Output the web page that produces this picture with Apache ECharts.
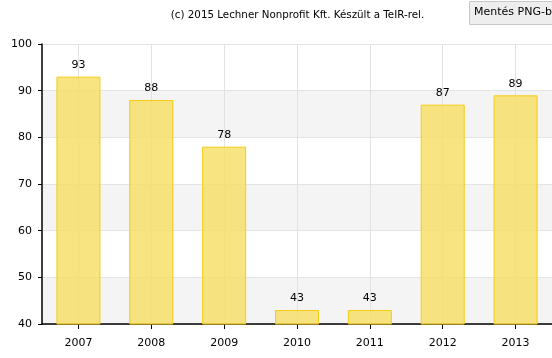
<!DOCTYPE html>
<html><head><meta charset="utf-8">
<script src="https://cdn.jsdelivr.net/npm/echarts@6/dist/echarts.min.js"></script>
<style>html,body{margin:0;padding:0;background:#fff}#c{width:552px;height:358px}</style>
</head><body><div id="c"></div>
<script>
const categories = ['2007','2008','2009','2010','2011','2012','2013'];
const values = [93, 88, 78, 43, 43, 87, 89];
const yTicks = [40, 50, 60, 70, 80, 90, 100];
const titleText = '(c) 2015 Lechner Nonprofit Kft. Készült a TeIR-rel.';
const buttonText = 'Mentés PNG-be';

const chart = echarts.init(document.getElementById('c'), null, {renderer:'canvas'});
const font = 'DejaVu Sans';
chart.setOption({
  animation:false,
  textStyle:{fontFamily:font},
  graphic:[
    {type:'text', x:297.5, y:10, style:{text:titleText, font:'10.3px "DejaVu Sans"', fill:'#000', align:'center'}},
    {type:'rect', shape:{x:469.5,y:1.5,width:90,height:23}, style:{fill:'#eeeeee', stroke:'#c8c8c8', lineWidth:1}},
    {type:'text', x:474, y:7, style:{text:buttonText, font:'11px "DejaVu Sans"', fill:'#000'}}
  ],
  grid:{left:42, right:-1.5, top:44, bottom:34, containLabel:false},
  xAxis:{type:'category', data:categories,
    axisLine:{lineStyle:{color:'#000', width:1.5}},
    axisTick:{show:true, alignWithLabel:true, length:5, lineStyle:{color:'#000'}},
    axisLabel:{fontSize:11, color:'#000', margin:14, fontFamily:font},
    splitLine:{show:false}
  },
  yAxis:{type:'value', min:yTicks[0], max:yTicks[yTicks.length-1], interval:10,
    axisLine:{show:true, lineStyle:{color:'#000', width:1.5}},
    axisTick:{show:true, length:4, lineStyle:{color:'#000'}},
    axisLabel:{fontSize:11, color:'#000', margin:10, fontFamily:font},
    splitLine:{show:true, lineStyle:{color:'#e4e4e4'}},
    splitArea:{show:true, areaStyle:{color:['#f4f4f4','#ffffff']}}
  },
  series:[
    {type:'line', data:[], z:1, silent:true,
      markLine:{silent:true, z:1, symbol:'none', label:{show:false}, animation:false,
        lineStyle:{color:'#e2e2e2', type:'solid', width:1},
        data:categories.map(c=>({xAxis:c}))}
    },
    {
    type:'bar', data:values, barWidth:44,
    itemStyle:{color:'rgba(247,222,100,0.82)', borderColor:'#f5cb18', borderWidth:1},
    label:{show:true, position:'top', distance:6, fontSize:11, color:'#000', fontFamily:font},
    z:3
  }]
});
</script></body></html>
